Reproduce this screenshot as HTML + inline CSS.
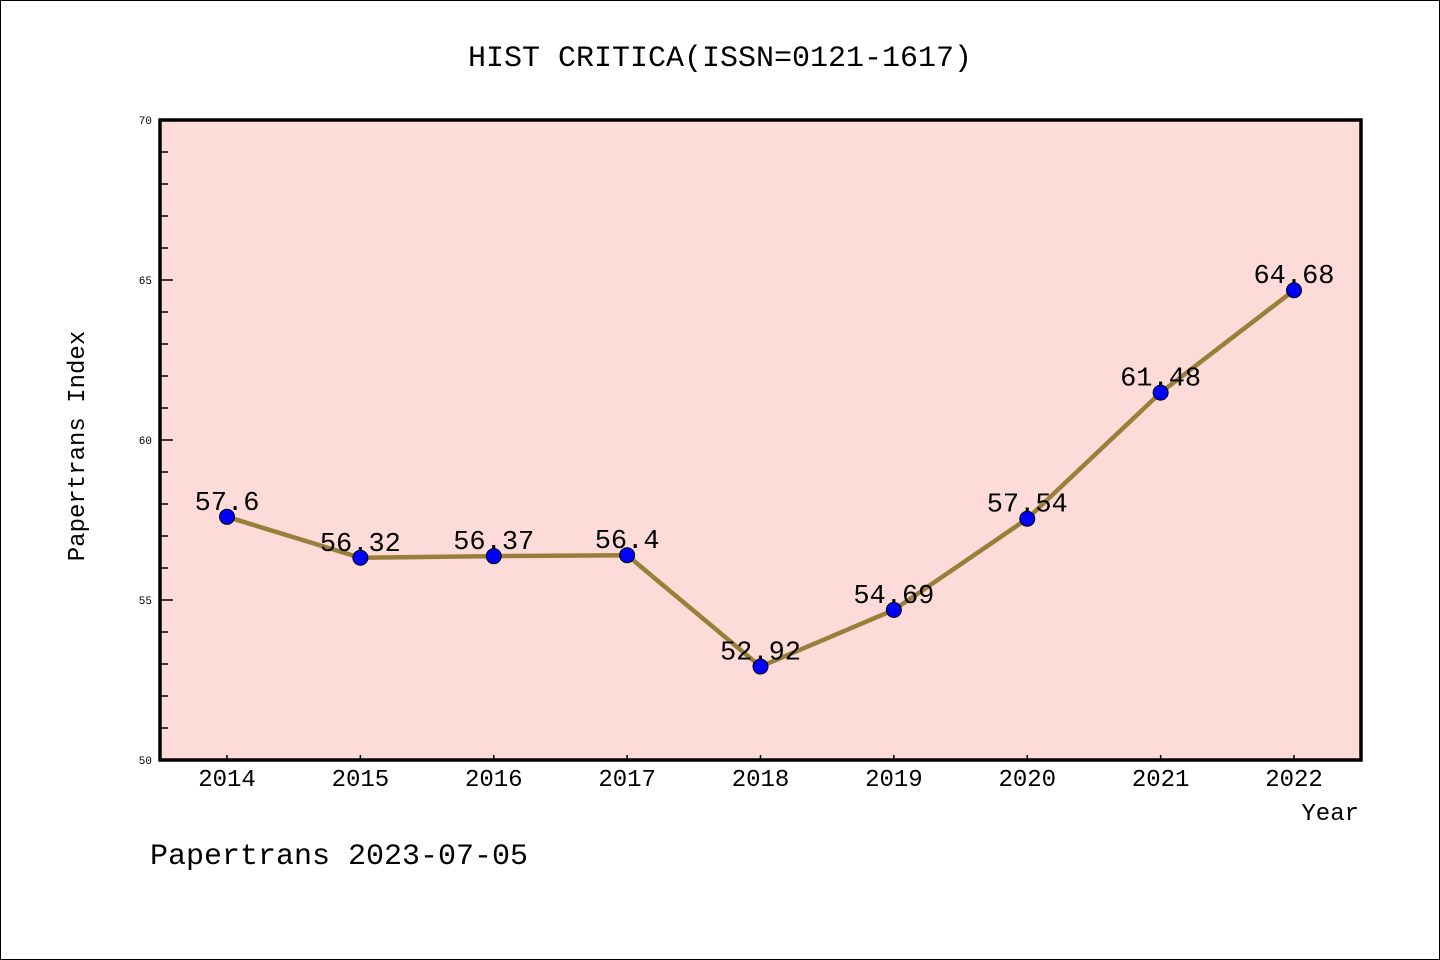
<!DOCTYPE html>
<html><head><meta charset="utf-8"><style>
body{margin:0;background:#fff;}
svg{display:block;font-family:"Liberation Mono","DejaVu Sans Mono",monospace;}
</style></head><body>
<svg id="c" width="1440" height="960">
<rect x="0.5" y="0.5" width="1439" height="959" fill="#fff" stroke="#000"/>
<text x="720" y="66" font-size="30" text-anchor="middle">HIST CRITICA(ISSN=0121-1617)</text>
<rect x="160" y="120" width="1201" height="640" fill="#fddbd8"/>
<g id="ticks"></g>
<g id="series"></g>
<rect x="160" y="120" width="1201" height="640" fill="none" stroke="#000" stroke-width="3.5"/>
<text x="84" y="446" font-size="24" text-anchor="middle" transform="rotate(-90 84 446)">Papertrans Index</text>
<text x="1359" y="820" font-size="24" text-anchor="end">Year</text>
<text x="150" y="864" font-size="30">Papertrans 2023-07-05</text>
</svg>
<script>
const years=[2014,2015,2016,2017,2018,2019,2020,2021,2022];
const values=[57.6,56.32,56.37,56.4,52.92,54.69,57.54,61.48,64.68];
const labels=["57.6","56.32","56.37","56.4","52.92","54.69","57.54","61.48","64.68"];
const yTicks=[50,55,60,65,70];
const NS="http://www.w3.org/2000/svg";
const X=v=>227+(v-2014)*(1294-227)/8;
const Y=v=>760-(v-50)*32;
function mk(t,a,p){const e=document.createElementNS(NS,t);for(const k in a)e.setAttribute(k,a[k]);p.appendChild(e);return e;}
const tg=document.getElementById('ticks'),sg=document.getElementById('series');
for(let v=50;v<=70;v++){
 const maj=v%5===0;
 const l=mk('line',{x1:160,x2:maj?173:168,y1:Y(v),y2:Y(v),stroke:'#000','stroke-width':1.5},tg);
 
 
}
yTicks.forEach(v=>{
 const t=mk('text',{x:152,y:Y(v)+4,'font-size':11,'text-anchor':'end',fill:'#000'},tg);t.textContent=v;
 
 
});
years.forEach(y=>{
 const l=mk('line',{x1:X(y),x2:X(y),y1:760,y2:755,stroke:'#000','stroke-width':1.5},tg);
 
 
 const t=mk('text',{x:X(y),y:786,'font-size':24,'text-anchor':'middle',fill:'#000'},tg);t.textContent=y;
 
 
});
const pl=mk('polyline',{points:years.map((y,i)=>X(y)+','+Y(values[i])).join(' '),fill:'none',stroke:'#9a7f3a','stroke-width':4.5},sg);


years.forEach((y,i)=>{
 const c=mk('circle',{cx:X(y),cy:Y(values[i]),r:7.5,fill:'#0000ff',stroke:'#000','stroke-width':1},sg);
 
 
 const t=mk('text',{x:X(y),y:Y(values[i])-7,'font-size':27,'text-anchor':'middle',fill:'#000'},sg);t.textContent=labels[i];
 
 
});
</script>
</body></html>
